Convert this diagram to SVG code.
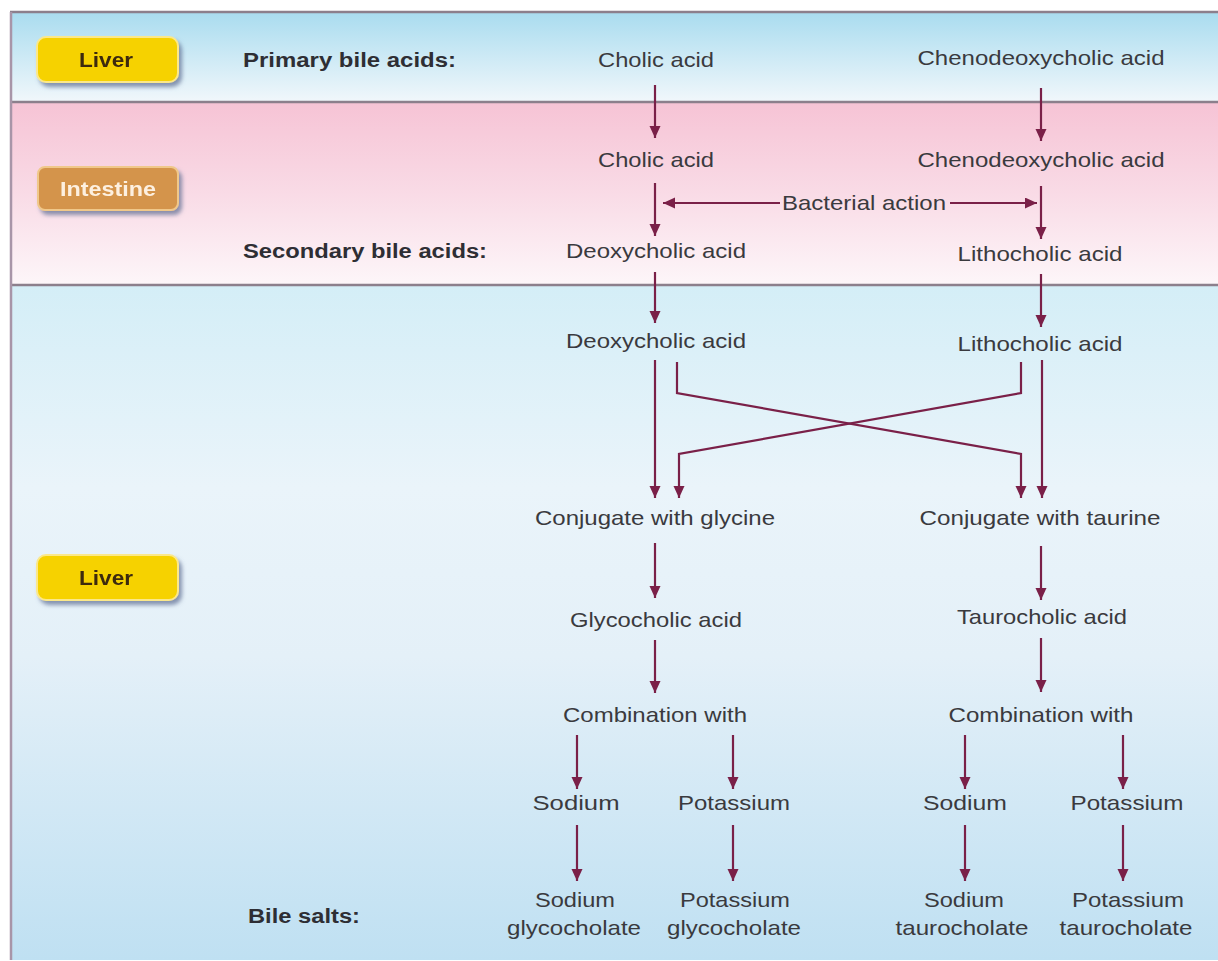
<svg xmlns="http://www.w3.org/2000/svg" width="1218" height="961" viewBox="0 0 1218 961">
<defs>
<linearGradient id="gTop" x1="0" y1="0" x2="0" y2="1">
<stop offset="0" stop-color="#a9dcef"/><stop offset="1" stop-color="#f1f7fb"/>
</linearGradient>
<linearGradient id="gPink" x1="0" y1="0" x2="0" y2="1">
<stop offset="0" stop-color="#f6c3d5"/><stop offset="0.5" stop-color="#f9dbe6"/><stop offset="1" stop-color="#fdf6f9"/>
</linearGradient>
<linearGradient id="gBot" x1="0" y1="0" x2="0" y2="1">
<stop offset="0" stop-color="#d4eef7"/><stop offset="0.3" stop-color="#eaf4fa"/><stop offset="0.55" stop-color="#e4f0f8"/><stop offset="1" stop-color="#bfe0f2"/>
</linearGradient>
<filter id="sh" x="-10%" y="-10%" width="130%" height="140%">
<feGaussianBlur in="SourceAlpha" stdDeviation="2"/>
<feOffset dx="3" dy="4" result="b"/>
<feFlood flood-color="#5a6a90" flood-opacity="0.7"/>
<feComposite in2="b" operator="in"/>
<feMerge><feMergeNode/><feMergeNode in="SourceGraphic"/></feMerge>
</filter>
<marker id="ah" markerUnits="userSpaceOnUse" markerWidth="12" markerHeight="12" refX="12" refY="5.5" orient="auto">
<path d="M0,0 L12,5.5 L0,11 z" fill="#7a2048"/>
</marker>
<style>
.t{font-family:"Liberation Sans",Arial,sans-serif;font-size:21px;fill:#3a3a3e;text-anchor:middle}
.b{font-family:"Liberation Sans",Arial,sans-serif;font-size:20px;font-weight:bold;fill:#2e2e34}
.lbl{font-family:"Liberation Sans",Arial,sans-serif;font-size:21px;font-weight:bold;text-anchor:middle}
.c{fill:none;stroke:#7a2048;stroke-width:2.2;marker-end:url(#ah)}
.div{stroke:#8c7f8c;stroke-width:2.5}
</style>
</defs>

<g id="background">
<rect x="0" y="0" width="1218" height="961" fill="#ffffff"/>
<rect x="10" y="12" width="1208" height="90" fill="url(#gTop)"/>
<rect x="10" y="102" width="1208" height="183" fill="url(#gPink)"/>
<rect x="10" y="285" width="1208" height="675" fill="url(#gBot)"/>
<line class="div" x1="10" y1="12" x2="1218" y2="12"/>
<line class="div" x1="10" y1="102" x2="1218" y2="102"/>
<line class="div" x1="10" y1="285" x2="1218" y2="285"/>
<line x1="11" y1="12" x2="11" y2="960" stroke="#a895a8" stroke-width="2.5"/>
</g>

<g id="label-liver-top" filter="url(#sh)">
<rect x="37" y="37" width="141" height="45" rx="9" fill="#f6d200" stroke="#fbe88a" stroke-width="2"/>
<text class="lbl" x="106" y="67" fill="#3c2a10" textLength="54" lengthAdjust="spacingAndGlyphs">Liver</text>
</g>
<g id="label-intestine" filter="url(#sh)">
<rect x="38" y="167" width="140" height="43" rx="7" fill="#d4944c" stroke="#f0c88a" stroke-width="2"/>
<text class="lbl" x="108" y="196" fill="#fdf0e0" textLength="96" lengthAdjust="spacingAndGlyphs">Intestine</text>
</g>
<g id="label-liver-bottom" filter="url(#sh)">
<rect x="37" y="555" width="141" height="45" rx="9" fill="#f6d200" stroke="#fbe88a" stroke-width="2"/>
<text class="lbl" x="106" y="585" fill="#3c2a10" textLength="54" lengthAdjust="spacingAndGlyphs">Liver</text>
</g>

<g id="headings">
<text class="b" x="243" y="67" textLength="213" lengthAdjust="spacingAndGlyphs">Primary bile acids:</text>
<text class="b" x="243" y="258" textLength="244" lengthAdjust="spacingAndGlyphs">Secondary bile acids:</text>
<text class="b" x="248" y="923" textLength="112" lengthAdjust="spacingAndGlyphs">Bile salts:</text>
</g>

<g id="n-cholic1"><text class="t" x="656" y="67" textLength="116" lengthAdjust="spacingAndGlyphs">Cholic acid</text></g>
<g id="n-cheno1"><text class="t" x="1041" y="65" textLength="247" lengthAdjust="spacingAndGlyphs">Chenodeoxycholic acid</text></g>
<g id="n-cholic2"><text class="t" x="656" y="167" textLength="116" lengthAdjust="spacingAndGlyphs">Cholic acid</text></g>
<g id="n-cheno2"><text class="t" x="1041" y="167" textLength="247" lengthAdjust="spacingAndGlyphs">Chenodeoxycholic acid</text></g>
<g id="n-bacterial"><text class="t" x="864" y="210" textLength="164" lengthAdjust="spacingAndGlyphs">Bacterial action</text></g>
<g id="n-deoxy1"><text class="t" x="656" y="258" textLength="180" lengthAdjust="spacingAndGlyphs">Deoxycholic acid</text></g>
<g id="n-litho1"><text class="t" x="1040" y="261" textLength="165" lengthAdjust="spacingAndGlyphs">Lithocholic acid</text></g>
<g id="n-deoxy2"><text class="t" x="656" y="348" textLength="180" lengthAdjust="spacingAndGlyphs">Deoxycholic acid</text></g>
<g id="n-litho2"><text class="t" x="1040" y="351" textLength="165" lengthAdjust="spacingAndGlyphs">Lithocholic acid</text></g>
<g id="n-conj-gly"><text class="t" x="655" y="525" textLength="240" lengthAdjust="spacingAndGlyphs">Conjugate with glycine</text></g>
<g id="n-conj-tau"><text class="t" x="1040" y="525" textLength="241" lengthAdjust="spacingAndGlyphs">Conjugate with taurine</text></g>
<g id="n-glyco"><text class="t" x="656" y="627" textLength="172" lengthAdjust="spacingAndGlyphs">Glycocholic acid</text></g>
<g id="n-tauro"><text class="t" x="1042" y="624" textLength="170" lengthAdjust="spacingAndGlyphs">Taurocholic acid</text></g>
<g id="n-comb1"><text class="t" x="655" y="722" textLength="184" lengthAdjust="spacingAndGlyphs">Combination with</text></g>
<g id="n-comb2"><text class="t" x="1041" y="722" textLength="185" lengthAdjust="spacingAndGlyphs">Combination with</text></g>
<g id="n-na1"><text class="t" x="576" y="810" textLength="87" lengthAdjust="spacingAndGlyphs">Sodium</text></g>
<g id="n-k1"><text class="t" x="734" y="810" textLength="112" lengthAdjust="spacingAndGlyphs">Potassium</text></g>
<g id="n-na2"><text class="t" x="965" y="810" textLength="84" lengthAdjust="spacingAndGlyphs">Sodium</text></g>
<g id="n-k2"><text class="t" x="1127" y="810" textLength="113" lengthAdjust="spacingAndGlyphs">Potassium</text></g>
<g id="n-na-gly">
<text class="t" x="575" y="907" textLength="80" lengthAdjust="spacingAndGlyphs">Sodium</text>
<text class="t" x="574" y="935" textLength="134" lengthAdjust="spacingAndGlyphs">glycocholate</text>
</g>
<g id="n-k-gly">
<text class="t" x="735" y="907" textLength="110" lengthAdjust="spacingAndGlyphs">Potassium</text>
<text class="t" x="734" y="935" textLength="134" lengthAdjust="spacingAndGlyphs">glycocholate</text>
</g>
<g id="n-na-tau">
<text class="t" x="964" y="907" textLength="80" lengthAdjust="spacingAndGlyphs">Sodium</text>
<text class="t" x="962" y="935" textLength="133" lengthAdjust="spacingAndGlyphs">taurocholate</text>
</g>
<g id="n-k-tau">
<text class="t" x="1128" y="907" textLength="112" lengthAdjust="spacingAndGlyphs">Potassium</text>
<text class="t" x="1126" y="935" textLength="133" lengthAdjust="spacingAndGlyphs">taurocholate</text>
</g>

<g id="connectors">
<line class="c" x1="655" y1="85" x2="655" y2="138"/>
<line class="c" x1="1041" y1="88" x2="1041" y2="141"/>
<line class="c" x1="655" y1="183" x2="655" y2="236"/>
<line class="c" x1="1041" y1="186" x2="1041" y2="239"/>
<line class="c" x1="780" y1="203" x2="663" y2="203"/>
<line class="c" x1="950" y1="203" x2="1037" y2="203"/>
<line class="c" x1="655" y1="272" x2="655" y2="323"/>
<line class="c" x1="1041" y1="274" x2="1041" y2="327"/>
<line class="c" x1="655" y1="360" x2="655" y2="498"/>
<polyline class="c" points="677,362 677,393 1021,454 1021,498"/>
<polyline class="c" points="1021,362 1021,393 679,454 679,498"/>
<line class="c" x1="1042" y1="360" x2="1042" y2="498"/>
<line class="c" x1="655" y1="543" x2="655" y2="598"/>
<line class="c" x1="1041" y1="546" x2="1041" y2="600"/>
<line class="c" x1="655" y1="640" x2="655" y2="693"/>
<line class="c" x1="1041" y1="638" x2="1041" y2="692"/>
<line class="c" x1="577" y1="735" x2="577" y2="789"/>
<line class="c" x1="733" y1="735" x2="733" y2="789"/>
<line class="c" x1="965" y1="735" x2="965" y2="789"/>
<line class="c" x1="1123" y1="735" x2="1123" y2="789"/>
<line class="c" x1="577" y1="825" x2="577" y2="881"/>
<line class="c" x1="733" y1="825" x2="733" y2="881"/>
<line class="c" x1="965" y1="825" x2="965" y2="881"/>
<line class="c" x1="1123" y1="825" x2="1123" y2="881"/>
</g>
</svg>
